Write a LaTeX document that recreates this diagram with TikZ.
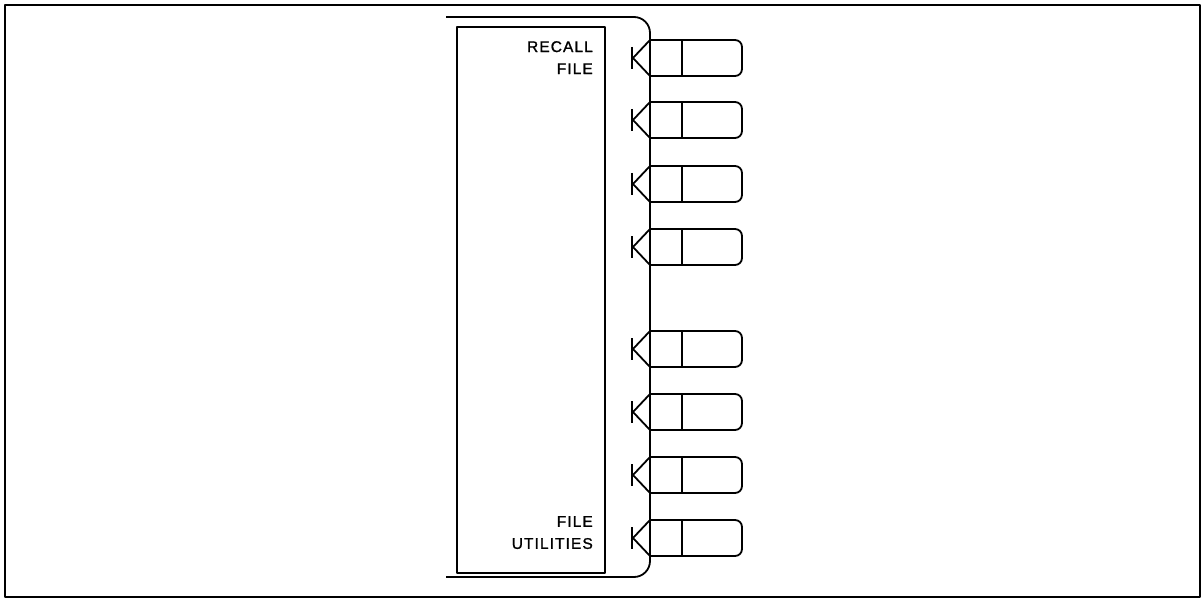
\documentclass[tikz,border=0pt]{standalone}
\usepackage{fontspec}
\newfontfamily\lab[LetterSpace=7,FakeBold=1.2]{Liberation Sans}
\begin{document}
\begin{tikzpicture}[x=1pt,y=-1pt,
  ln/.style={line width=1.8pt,line join=round},
  lbl/.style={font=\lab\fontsize{15.5}{22}\selectfont,align=right,anchor=north east,inner sep=0pt}]
\useasboundingbox (0,0) rectangle (1203,599);
\draw[ln] (5,5) rectangle (1200,597);
% outer bracket / spine
\draw[ln,rounded corners=16] (446,17) -- (650,17) -- (650,577) -- (446,577);
% inner panel
\draw[ln] (457,27) rectangle (605,573);
\node[lbl] (recall) at (593,41) {RECALL\\FILE};
\node[lbl] (util) at (593,516) {FILE\\UTILITIES};
% tabs
\foreach \t [count=\i] in {40,102,166,229,331,394,457,520}{
  \coordinate (tab\i) at (650,\t);
  \draw[ln,rounded corners=7] (tab\i) -- (742,\t) -- (742,\t+36) -- (650,\t+36);
  \draw[ln] (682,\t) -- (682,\t+36);
  \draw[ln] (tab\i) -- (633,\t+18) -- (650,\t+36);
  \draw[line width=2.8pt] (632,\t+7) -- (632,\t+29);
}
\end{tikzpicture}
\end{document}
